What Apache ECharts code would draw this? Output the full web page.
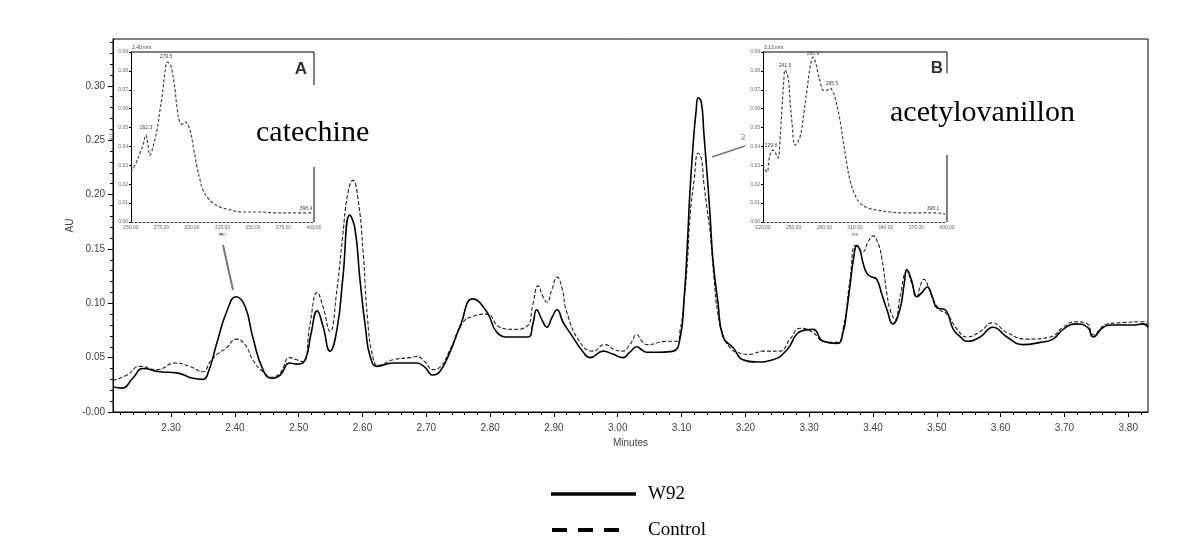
<!DOCTYPE html>
<html>
<head>
<meta charset="utf-8">
<title>W92 / Control chromatogram</title>
<script src="https://cdn.jsdelivr.net/npm/echarts@6/dist/echarts.min.js"></script>
<style>
  html, body { margin: 0; padding: 0; background: #fff; }
  #chart { width: 1200px; height: 558px; }
</style>
</head>
<body>
<div id="chart"></div>
<script>
// chromatogram traces: [minutes, AU]
const w92Trace = [
  [2.209,0.023],[2.223,0.022],[2.240,0.031],[2.256,0.040],[2.282,0.037],[2.309,0.036],[2.334,0.031],[2.350,0.030],
  [2.358,0.036],[2.372,0.064],[2.387,0.092],[2.402,0.106],[2.416,0.097],[2.428,0.069],[2.444,0.039],[2.458,0.031],
  [2.471,0.034],[2.486,0.045],[2.497,0.044],[2.510,0.048],[2.519,0.071],[2.529,0.093],[2.538,0.079],[2.549,0.056],
  [2.560,0.076],[2.569,0.122],[2.580,0.181],[2.588,0.169],[2.596,0.122],[2.605,0.076],[2.612,0.051],[2.623,0.042],
  [2.648,0.045],[2.674,0.045],[2.685,0.045],[2.698,0.041],[2.710,0.034],[2.721,0.037],[2.737,0.055],[2.753,0.079],
  [2.773,0.104],[2.795,0.092],[2.811,0.073],[2.831,0.069],[2.859,0.069],[2.867,0.081],[2.873,0.094],[2.881,0.085],
  [2.889,0.078],[2.897,0.087],[2.905,0.094],[2.914,0.083],[2.925,0.073],[2.946,0.055],[2.957,0.050],[2.977,0.056],
  [2.993,0.053],[3.008,0.050],[3.019,0.055],[3.030,0.060],[3.038,0.057],[3.046,0.055],[3.066,0.055],[3.087,0.056],
  [3.098,0.069],[3.104,0.104],[3.109,0.153],[3.113,0.201],[3.118,0.245],[3.123,0.278],[3.126,0.289],[3.131,0.285],
  [3.135,0.256],[3.140,0.219],[3.145,0.178],[3.149,0.141],[3.157,0.101],[3.165,0.069],[3.181,0.059],[3.196,0.048],
  [3.218,0.046],[3.243,0.048],[3.265,0.057],[3.286,0.074],[3.306,0.076],[3.322,0.065],[3.344,0.063],[3.353,0.073],
  [3.359,0.094],[3.364,0.116],[3.369,0.139],[3.375,0.153],[3.380,0.148],[3.384,0.138],[3.391,0.127],[3.399,0.124],
  [3.406,0.122],[3.414,0.108],[3.422,0.094],[3.431,0.081],[3.442,0.094],[3.449,0.118],[3.453,0.131],[3.460,0.122],
  [3.469,0.106],[3.477,0.110],[3.485,0.115],[3.493,0.106],[3.500,0.096],[3.513,0.094],[3.526,0.076],[3.537,0.069],
  [3.547,0.065],[3.568,0.069],[3.588,0.078],[3.610,0.069],[3.635,0.062],[3.662,0.064],[3.682,0.067],[3.698,0.076],
  [3.717,0.081],[3.736,0.078],[3.745,0.069],[3.761,0.078],[3.776,0.080],[3.808,0.080],[3.823,0.081],[3.831,0.078]
];

const controlTrace = [
  [2.209,0.029],[2.231,0.034],[2.251,0.042],[2.278,0.039],[2.306,0.045],[2.329,0.042],[2.350,0.037],[2.361,0.046],
  [2.372,0.053],[2.387,0.059],[2.402,0.067],[2.416,0.062],[2.428,0.048],[2.444,0.037],[2.458,0.032],[2.471,0.036],
  [2.486,0.050],[2.497,0.048],[2.507,0.046],[2.518,0.082],[2.529,0.110],[2.538,0.097],[2.549,0.074],[2.560,0.113],
  [2.569,0.162],[2.577,0.201],[2.585,0.213],[2.593,0.196],[2.601,0.147],[2.608,0.085],[2.616,0.051],[2.624,0.043],
  [2.648,0.048],[2.674,0.050],[2.685,0.051],[2.698,0.046],[2.710,0.039],[2.721,0.041],[2.737,0.057],[2.757,0.082],
  [2.773,0.088],[2.795,0.090],[2.815,0.078],[2.836,0.076],[2.858,0.079],[2.867,0.099],[2.875,0.116],[2.883,0.106],
  [2.889,0.101],[2.897,0.113],[2.905,0.124],[2.913,0.113],[2.920,0.092],[2.941,0.064],[2.961,0.056],[2.980,0.062],
  [2.996,0.057],[3.008,0.056],[3.019,0.062],[3.030,0.071],[3.038,0.065],[3.046,0.062],[3.077,0.065],[3.093,0.065],
  [3.098,0.076],[3.102,0.092],[3.109,0.136],[3.113,0.178],[3.120,0.215],[3.126,0.238],[3.131,0.233],[3.135,0.210],
  [3.140,0.187],[3.145,0.164],[3.151,0.122],[3.157,0.090],[3.165,0.071],[3.176,0.059],[3.187,0.055],[3.207,0.053],
  [3.228,0.056],[3.254,0.056],[3.270,0.067],[3.286,0.077],[3.306,0.073],[3.322,0.065],[3.344,0.064],[3.353,0.076],
  [3.364,0.122],[3.372,0.153],[3.377,0.151],[3.384,0.147],[3.392,0.156],[3.400,0.162],[3.408,0.155],[3.414,0.141],
  [3.422,0.108],[3.427,0.094],[3.435,0.085],[3.442,0.104],[3.453,0.129],[3.461,0.118],[3.469,0.106],[3.474,0.116],
  [3.480,0.122],[3.488,0.113],[3.494,0.104],[3.505,0.094],[3.516,0.090],[3.532,0.076],[3.547,0.069],[3.568,0.074],
  [3.587,0.082],[3.610,0.073],[3.642,0.067],[3.678,0.069],[3.698,0.078],[3.717,0.083],[3.736,0.081],[3.745,0.071],
  [3.767,0.081],[3.787,0.082],[3.823,0.083],[3.831,0.080]
];

// UV spectra in the insets: [nm, AU]
const spectrumA = [
  [250.0,0.0265],[254.1,0.0312],[257.4,0.0365],[259.8,0.0407],[262.3,0.0460],[263.9,0.0407],[265.6,0.0354],
  [268.0,0.0397],[271.3,0.0487],[273.8,0.0593],[275.4,0.0661],[277.9,0.0794],[279.5,0.0846],[282.0,0.0836],
  [283.6,0.0804],[286.1,0.0698],[287.7,0.0608],[290.2,0.0524],[292.6,0.0518],[295.1,0.0529],[296.7,0.0513],
  [298.4,0.0487],[301.6,0.0381],[304.1,0.0291],[306.6,0.0222],[309.0,0.0169],[313.1,0.0127],[317.2,0.0101],
  [323.0,0.0079],[328.7,0.0069],[341.8,0.0053],[355.7,0.0053],[369.7,0.0048],[388.5,0.0048],[398.4,0.0048]
];
const spectrumB = [
  [220.0,0.0302],[222.0,0.0275],[223.9,0.0265],[226.8,0.0354],[229.8,0.0381],[231.7,0.0370],[234.7,0.0339],
  [236.6,0.0434],[238.6,0.0608],[240.5,0.0762],[241.5,0.0804],[244.5,0.0767],[246.4,0.0645],[248.4,0.0524],
  [251.3,0.0407],[256.2,0.0450],[260.1,0.0582],[263.0,0.0698],[266.0,0.0815],[268.9,0.0873],[271.9,0.0836],
  [273.8,0.0788],[276.7,0.0725],[278.7,0.0698],[282.6,0.0698],[285.5,0.0709],[288.5,0.0688],[290.4,0.0661],
  [295.3,0.0540],[298.3,0.0434],[302.2,0.0302],[305.1,0.0222],[310.0,0.0143],[314.9,0.0101],[322.7,0.0074],
  [331.5,0.0063],[344.2,0.0053],[357.0,0.0048],[373.6,0.0048],[390.2,0.0048],[398.1,0.0042]
];

// axis ticks
const minuteTicks = [2.30, 2.40, 2.50, 2.60, 2.70, 2.80, 2.90, 3.00, 3.10, 3.20, 3.30, 3.40, 3.50, 3.60, 3.70, 3.80];
const auTicks = [0, 0.05, 0.10, 0.15, 0.20, 0.25, 0.30];
const peakLabelsA = ['279.5', '262.3', '398.4'];
const peakLabelsB = ['241.5', '268.9', '285.5', '229.8', '398.1'];

const minuteMinor = [];
for (let k = 111; k <= 191; k++) {
  if (k % 5 !== 0) minuteMinor.push(k / 50);
}
const auMinor = [];
for (let k = 1; k <= 34; k++) {
  if (k % 5 !== 0) auMinor.push(k / 100);
}

const chart = echarts.init(document.getElementById('chart'));
const axisFont = { fontFamily: '"Liberation Sans", Arial, sans-serif', fontSize: 10, color: '#444' };
const tinyFont = { fontFamily: '"Liberation Sans", Arial, sans-serif', fontSize: 5, color: '#666' };

function line(x1, y1, x2, y2, stroke, w, dash) {
  return { type: 'line', silent: true, shape: { x1, y1, x2, y2 },
           style: { stroke, lineWidth: w, lineDash: dash || null } };
}
function text(t, x, y, font, align, fill) {
  return { type: 'text', silent: true, x, y,
           style: { text: t, font, fill: fill || '#000', textAlign: align || 'left', textVerticalAlign: 'middle' } };
}

const option = {
  animation: false,
  backgroundColor: '#fff',
  grid: [
    { left: 113, right: 52, top: 39, bottom: 146, show: true, borderColor: '#000', borderWidth: 1 },
    { left: 131, top: 52, width: 183, height: 170 },
    { left: 763, top: 52, width: 184, height: 170 }
  ],
  xAxis: [
    {
      type: 'value', gridIndex: 0, position: 'bottom', min: 2.209, max: 3.831,
      name: 'Minutes', nameLocation: 'middle', nameGap: 26, nameMoveOverlap: false,
      nameTextStyle: axisFont,
      axisLine: { lineStyle: { color: '#000', width: 1 } },
      axisTick: { show: true, length: 5, customValues: minuteTicks, lineStyle: { color: '#000' } },
      axisLabel: Object.assign({ margin: 11, customValues: minuteTicks, formatter: v => v.toFixed(2) }, axisFont),
      splitLine: { show: false }
    },
    {
      type: 'value', gridIndex: 0, position: 'bottom', min: 2.209, max: 3.831,
      axisLine: { show: false },
      axisTick: { show: true, length: 3, customValues: minuteMinor, lineStyle: { color: '#000' } },
      axisLabel: { show: false },
      splitLine: { show: false }
    },
    {
      type: 'value', gridIndex: 1, position: 'bottom', min: 250, max: 400, interval: 25,
      name: 'nm', nameLocation: 'middle', nameGap: 10, nameTextStyle: tinyFont,
      axisLine: { lineStyle: { color: '#444', type: [2, 2] } },
      axisTick: { show: false },
      axisLabel: Object.assign({ margin: 3, formatter: v => v.toFixed(2) }, tinyFont),
      splitLine: { show: false }
    },
    {
      type: 'value', gridIndex: 2, position: 'bottom', min: 220, max: 400, interval: 30,
      name: 'nm', nameLocation: 'middle', nameGap: 10, nameTextStyle: tinyFont,
      axisLine: { lineStyle: { color: '#444', type: [2, 2] } },
      axisTick: { show: false },
      axisLabel: Object.assign({ margin: 3, formatter: v => v.toFixed(2) }, tinyFont),
      splitLine: { show: false }
    }
  ],
  yAxis: [
    {
      type: 'value', gridIndex: 0, position: 'left', min: 0, max: 0.343,
      name: 'AU', nameLocation: 'middle', nameGap: 38, nameRotate: 90, nameMoveOverlap: false,
      nameTextStyle: axisFont,
      axisLine: { show: true, lineStyle: { color: '#000', width: 1 } },
      axisTick: { show: true, length: 5, customValues: auTicks, lineStyle: { color: '#000' } },
      axisLabel: Object.assign({ margin: 8, customValues: auTicks,
        formatter: v => (v === 0 ? '-0.00' : v.toFixed(2)) }, axisFont),
      splitLine: { show: false }
    },
    {
      type: 'value', gridIndex: 1, position: 'left', min: 0, max: 0.09, interval: 0.01,
      name: 'AU', nameLocation: 'middle', nameGap: 14, nameRotate: 90, nameTextStyle: tinyFont,
      axisLine: { show: true, lineStyle: { color: '#000' } },
      axisTick: { show: true, length: 2, lineStyle: { color: '#000' } },
      axisLabel: Object.assign({ margin: 3, formatter: v => v.toFixed(2) }, tinyFont),
      splitLine: { show: false }
    },
    {
      type: 'value', gridIndex: 2, position: 'left', min: 0, max: 0.09, interval: 0.01,
      name: 'AU', nameLocation: 'middle', nameGap: 14, nameRotate: 90, nameTextStyle: tinyFont,
      axisLine: { show: true, lineStyle: { color: '#000' } },
      axisTick: { show: true, length: 2, lineStyle: { color: '#000' } },
      axisLabel: Object.assign({ margin: 3, formatter: v => v.toFixed(2) }, tinyFont),
      splitLine: { show: false }
    },
    {
      type: 'value', gridIndex: 0, position: 'left', min: 0, max: 0.343,
      axisLine: { show: false },
      axisTick: { show: true, length: 3, customValues: auMinor, lineStyle: { color: '#000' } },
      axisLabel: { show: false },
      splitLine: { show: false }
    }
  ],
  series: [
    {
      name: 'Control', type: 'line', xAxisIndex: 0, yAxisIndex: 0,
      data: controlTrace, symbol: 'none', smooth: 0.5, z: 2,
      lineStyle: { color: '#222', width: 1.1, type: [4, 2] }
    },
    {
      name: 'W92', type: 'line', xAxisIndex: 0, yAxisIndex: 0,
      data: w92Trace, symbol: 'none', smooth: 0.5, z: 3,
      lineStyle: { color: '#000', width: 1.6 }
    },
    {
      name: 'spectrum A', type: 'line', xAxisIndex: 2, yAxisIndex: 1,
      data: spectrumA, symbol: 'none', smooth: 0.4,
      lineStyle: { color: '#444', width: 1.2, type: [3, 2] }
    },
    {
      name: 'spectrum B', type: 'line', xAxisIndex: 3, yAxisIndex: 2,
      data: spectrumB, symbol: 'none', smooth: 0.4,
      lineStyle: { color: '#444', width: 1.2, type: [3, 2] }
    }
  ],
  graphic: [
    // inset A frame
    line(131, 52, 314, 52, '#000', 1),
    line(314, 52, 314, 85, '#000', 1),
    line(314, 167, 314, 222, '#000', 1),
    text('A', 301, 69, 'bold 17px "Liberation Sans", sans-serif', 'center', '#333'),
    text('2.40 min', 132, 48, '5px "Liberation Sans", sans-serif', 'left', '#444'),
    text(peakLabelsA[0], 166, 57, '5px "Liberation Sans", sans-serif', 'center', '#444'),
    text(peakLabelsA[1], 146, 128, '5px "Liberation Sans", sans-serif', 'center', '#444'),
    text(peakLabelsA[2], 306, 209, '5px "Liberation Sans", sans-serif', 'center', '#444'),
    // inset B frame
    line(763, 52, 947, 52, '#000', 1),
    line(947, 52, 947, 73, '#000', 1),
    line(947, 155, 947, 222, '#000', 1),
    text('B', 937, 68, 'bold 17px "Liberation Sans", sans-serif', 'center', '#333'),
    text('3.13 min', 764, 48, '5px "Liberation Sans", sans-serif', 'left', '#444'),
    text(peakLabelsB[0], 785, 66, '5px "Liberation Sans", sans-serif', 'center', '#444'),
    text(peakLabelsB[1], 813, 54, '5px "Liberation Sans", sans-serif', 'center', '#444'),
    text(peakLabelsB[2], 832, 84, '5px "Liberation Sans", sans-serif', 'center', '#444'),
    text(peakLabelsB[3], 771, 146, '5px "Liberation Sans", sans-serif', 'center', '#444'),
    text(peakLabelsB[4], 933, 209, '5px "Liberation Sans", sans-serif', 'center', '#444'),
    // compound names
    text('catechine', 256, 133, '30px "Liberation Serif", "Times New Roman", serif', 'left', '#000'),
    text('acetylovanillon', 890, 113, '30px "Liberation Serif", "Times New Roman", serif', 'left', '#000'),
    // pointers from insets to peaks
    line(223, 245, 233, 290, '#777', 2),
    { type: 'circle', silent: true, shape: { cx: 221, cy: 234, r: 1.2 }, style: { fill: '#777' } },
    line(712, 157, 745, 146, '#777', 1.6),
    // legend
    line(551, 494, 636, 494, '#000', 3.5),
    text('W92', 648, 494, '19px "Liberation Serif", "Times New Roman", serif', 'left', '#000'),
    line(552, 530, 620, 530, '#000', 4, [15, 11]),
    text('Control', 648, 530, '19px "Liberation Serif", "Times New Roman", serif', 'left', '#000')
  ]
};

chart.setOption(option);
</script>
</body>
</html>
